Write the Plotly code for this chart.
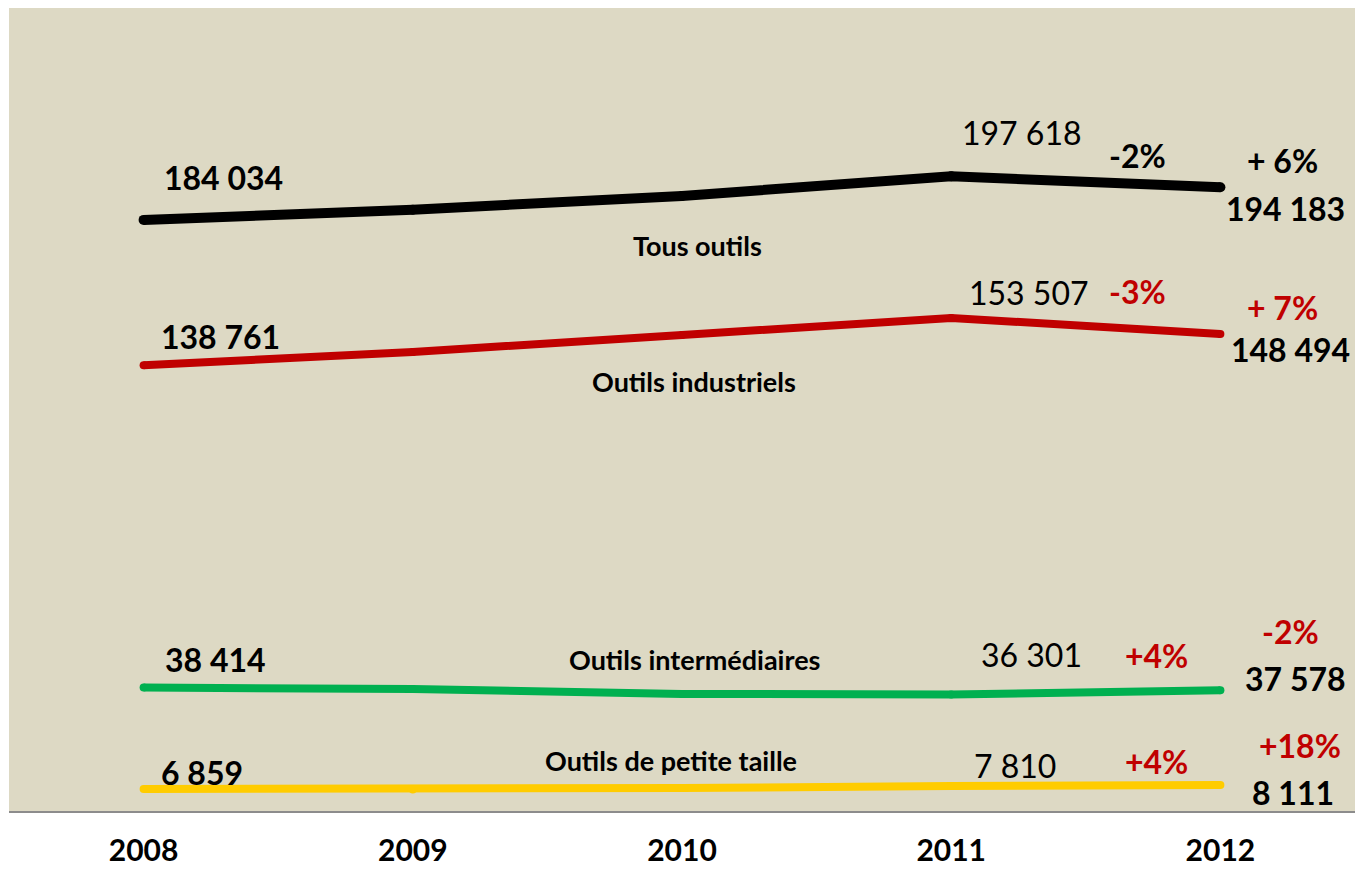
import plotly.graph_objects as go

years = ["2008", "2009", "2010", "2011", "2012"]
tous = [184034, 187200, 191500, 197618, 194183]
industriels = [138761, 142900, 148200, 153507, 148494]
intermediaires = [38414, 38000, 36450, 36301, 37578]
petite = [6859, 6700, 7150, 7810, 8111]

series_names = ["Tous outils", "Outils industriels", "Outils intermédiaires", "Outils de petite taille"]
series_values = [tous, industriels, intermediaires, petite]
series_colors = ["#000000", "#C00000", "#00B050", "#FFCC00"]
series_widths = [10, 8, 8, 8]

BG = "#DDD9C4"
RED = "#C00000"
FONT = "Lato"

fig = go.Figure()
for name, vals, col, w in zip(series_names, series_values, series_colors, series_widths):
    fig.add_trace(go.Scatter(
        x=years, y=vals, mode="lines+markers", name=name,
        line=dict(color=col, width=w),
        marker=dict(color=col, size=w, line=dict(width=0)),
        showlegend=False, hoverinfo="skip",
    ))

def fmt(v):
    return f"{v:,}".replace(",", " ")

annots = []
def add(xi, yv, text, dx, dy, bold=True, color="#000", size=32):
    annots.append(dict(
        x=xi, y=yv, xref="x", yref="y", text=text, showarrow=False,
        xshift=dx, yshift=-dy, xanchor="center", yanchor="middle",
        font=dict(family=FONT, size=size, color=color, weight="bold" if bold else "normal"),
    ))

LBL = 27
# Tous outils
add(0, tous[0], fmt(tous[0]), 80, -42)
add(3, tous[3], fmt(tous[3]), 71, -44, bold=False)
add(3, tous[3], "-2%", 186, -21)
add(4, tous[4], "+ 6%", 62, -27)
add(4, tous[4], fmt(tous[4]), 65, 21)
add(2, tous[2], "Tous outils", 15, 50, size=LBL)
# Industriels
add(0, industriels[0], fmt(industriels[0]), 77, -29)
add(3, industriels[3], fmt(industriels[3]), 78, -25, bold=False)
add(3, industriels[3], "-3%", 186, -26, color=RED)
add(4, industriels[4], "+ 7%", 62, -27, color=RED)
add(4, industriels[4], fmt(industriels[4]), 70, 15)
add(2, industriels[2], "Outils industriels", 12, 47, size=LBL)
# Intermediaires
add(0, intermediaires[0], fmt(intermediaires[0]), 72, -28)
add(2, intermediaires[2], "Outils intermédiaires", 12, -34, size=LBL)
add(3, intermediaires[3], fmt(intermediaires[3]), 80, -40, bold=False)
add(3, intermediaires[3], "+4%", 205, -39, color=RED)
add(4, intermediaires[4], "-2%", 70, -59, color=RED)
add(4, intermediaires[4], fmt(intermediaires[4]), 75, -12)
# Petite taille
add(0, petite[0], fmt(petite[0]), 58, -16)
add(2, petite[2], "Outils de petite taille", -11, -28, size=LBL)
add(3, petite[3], fmt(petite[3]), 64, -20, bold=False)
add(3, petite[3], "+4%", 205, -24, color=RED)
add(4, petite[4], "+18%", 80, -39, color=RED)
add(4, petite[4], fmt(petite[4]), 73, 8)

fig.update_layout(
    width=1355, height=872,
    margin=dict(l=9, r=0, t=8, b=61),
    paper_bgcolor="white", plot_bgcolor=BG,
    annotations=annots,
    xaxis=dict(
        type="category", range=[-0.5, 4.5], showgrid=False, zeroline=False,
        showline=True, linecolor="#8C8C8C", linewidth=2,
        ticks="", ticklabelstandoff=12, automargin=False,
        tickfont=dict(family=FONT, size=30, color="#000", weight="bold"),
        fixedrange=True,
    ),
    yaxis=dict(range=[0, 250000], visible=False, showgrid=False, zeroline=False,
               fixedrange=True, automargin=False),
)

fig.write_html(
    "out.html",
    config={"displayModeBar": False},
    post_script="document.body.style.margin='0';document.body.style.overflow='hidden';",
)
